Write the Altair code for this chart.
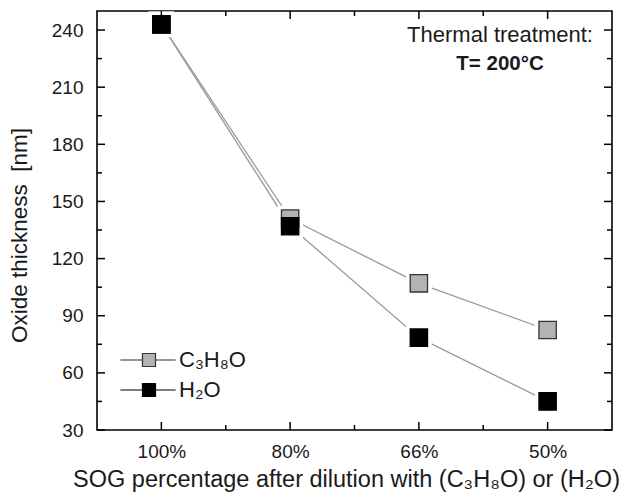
import json
import altair as alt
import pandas as pd

# Film thickness after a 200 °C anneal, for SOG diluted with propanol or water
categories = ["100%", "80%", "66%", "50%"]
series_names = ["C₃H₈O", "H₂O"]
propanol_nm = [243, 141, 107, 82.5]
water_nm = [243, 137, 78.5, 45]

y_major = [30, 60, 90, 120, 150, 180, 210, 240]
y_minor = [45, 75, 105, 135, 165, 195, 225]
x_major = [1, 2, 3, 4]
x_minor = [1.5, 2.5, 3.5]

W, H = 515, 419
FONT = "Liberation Sans"
INK = "#1a1a1a"

rows = []
for name, values in zip(series_names, [propanol_nm, water_nm]):
    for i, v in enumerate(values):
        rows.append({"pos": i + 1, "label": categories[i], "series": name, "value": v})
df = pd.DataFrame(rows)

xscale = alt.Scale(domain=[0.5, 4.5], nice=False, zero=False)
yscale = alt.Scale(domain=[30, 250], nice=False, zero=False)

label_expr = json.dumps(categories) + "[datum.value - 1]"

x_axis = alt.Axis(
    values=x_major, labelExpr=label_expr, ticks=False, domain=False, grid=False,
    title="SOG percentage after dilution with (C₃H₈O) or (H₂O)",
    labelFontSize=19, labelPadding=12, labelColor=INK, labelFont=FONT,
    titleFontSize=23.5, titleFontWeight="normal", titlePadding=6, titleColor=INK, titleFont=FONT,
    titleX=249,
)
y_axis = alt.Axis(
    values=y_major, ticks=False, domain=False, grid=False,
    title="Oxide thickness\u00a0 [nm]",
    labelFontSize=19, labelPadding=14, labelColor=INK, labelFont=FONT,
    titleFontSize=22.5, titleFontWeight="normal", titlePadding=20, titleColor=INK, titleFont=FONT,
    titleY=224,
)


def xq(field):
    return alt.X(field, scale=xscale, axis=x_axis)


def yq(field):
    return alt.Y(field, scale=yscale, axis=y_axis)


base = alt.Chart(df)

lines = base.mark_line(color="#9a9a9a", strokeWidth=1.3).encode(
    x=xq("pos:Q"), y=yq("value:Q"), detail="series:N",
)

# white squares behind the markers leave a small gap where lines meet them
halo = base.mark_point(shape="square", filled=True, color="white", size=650, opacity=1).encode(
    x=xq("pos:Q"), y=yq("value:Q"),
)

legend = alt.Legend(
    title=None, orient="none", legendX=41, legendY=338,
    symbolType="M-4.4,0H-1M1,0H4.1M-1,-1H1V1H-1Z",
    symbolSize=169, symbolStrokeWidth=1.2, symbolStrokeColor="#8a8a8a", symbolOpacity=1,
    labelFont=FONT, labelFontSize=22, labelColor=INK, labelOffset=19,
    rowPadding=8, padding=0,
)

markers = base.mark_point(shape="square", filled=True, size=300, strokeWidth=1.3, opacity=1).encode(
    x=xq("pos:Q"), y=yq("value:Q"),
    fill=alt.Fill("series:N", scale=alt.Scale(domain=series_names, range=["#b3b3b3", "#000000"]),
                  legend=legend, sort=series_names),
    stroke=alt.Stroke("series:N", scale=alt.Scale(domain=series_names, range=["#333333", "#000000"]),
                      legend=None),
)


def y_ticks(values, x0, x1):
    return alt.Chart(pd.DataFrame({"value": values})).mark_rule(color="black", strokeWidth=1.5).encode(
        y=yq("value:Q"), x=alt.value(x0), x2=alt.value(x1))


def x_ticks(values, y0, y1):
    return alt.Chart(pd.DataFrame({"pos": values})).mark_rule(color="black", strokeWidth=1.5).encode(
        x=xq("pos:Q"), y=alt.value(y0), y2=alt.value(y1))


ticks = [
    y_ticks(y_major, 0, 8), y_ticks(y_minor, 0, 5),
    y_ticks(y_major, W - 8, W), y_ticks(y_minor, W - 5, W),
    x_ticks(x_major, H, H - 8), x_ticks(x_minor, H, H - 5),
    x_ticks(x_major, 0, 8), x_ticks(x_minor, 0, 5),
]

note1 = alt.Chart(pd.DataFrame({"t": ["Thermal treatment:"]})).mark_text(
    font=FONT, fontSize=22, color=INK, align="center", baseline="alphabetic"
).encode(text="t:N", x=alt.value(403), y=alt.value(31))

note2 = alt.Chart(pd.DataFrame({"t": ["T= 200°C"]})).mark_text(
    font=FONT, fontSize=20.5, fontWeight="bold", color=INK, align="center", baseline="alphabetic"
).encode(text="t:N", x=alt.value(403), y=alt.value(59))

chart = alt.layer(lines, halo, markers, *ticks, note1, note2).properties(
    width=W, height=H,
    autosize=alt.AutoSizeParams(type="none"),
    padding={"left": 97, "top": 11, "right": 22, "bottom": 66},
    background="white",
).configure_view(stroke="black", strokeWidth=1.6)

chart.save("out.html", embed_options={"renderer": "svg", "actions": False})
